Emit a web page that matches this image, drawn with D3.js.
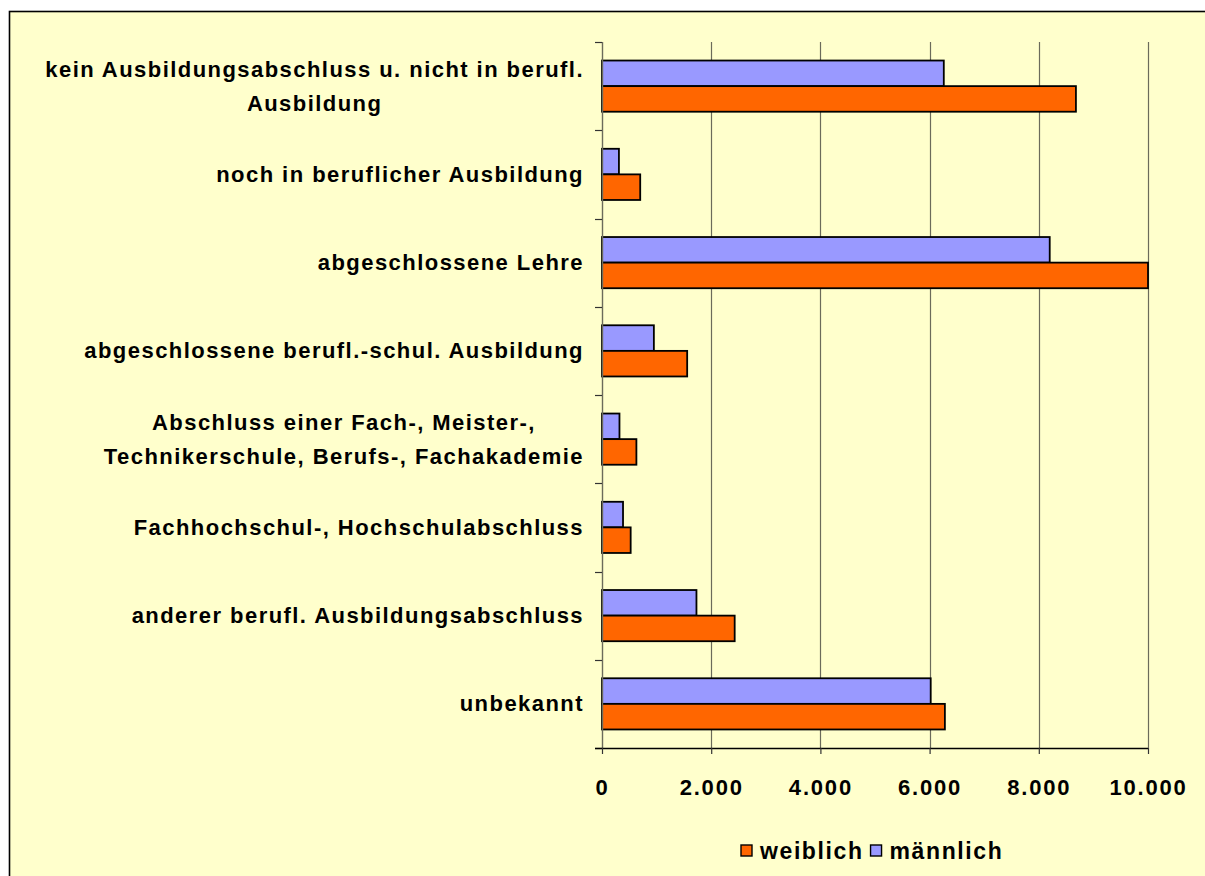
<!DOCTYPE html>
<html>
<head>
<meta charset="utf-8">
<script src="https://cdn.jsdelivr.net/npm/d3@7/dist/d3.min.js"></script>
<style>
  html, body { margin: 0; padding: 0; background: #ffffff; }
  svg { display: block; }
  text { font-family: "Liberation Sans", Arial, sans-serif; font-weight: bold; fill: #000; }
</style>
</head>
<body>
<svg id="chart" width="1205" height="876"></svg>
<script>
const categories = [
  ["kein Ausbildungsabschluss u. nicht in berufl.", "Ausbildung"],
  ["noch in beruflicher Ausbildung"],
  ["abgeschlossene Lehre"],
  ["abgeschlossene berufl.-schul. Ausbildung"],
  ["Abschluss einer Fach-, Meister-,", "Technikerschule, Berufs-, Fachakademie"],
  ["Fachhochschul-, Hochschulabschluss"],
  ["anderer berufl. Ausbildungsabschluss"],
  ["unbekannt"]
];
const weiblich = [8680, 700, 10000, 1560, 630, 525, 2430, 6280];
const maennlich = [6260, 310, 8200, 950, 320, 385, 1730, 6020];
const xTicks = [0, 2000, 4000, 6000, 8000, 10000];
const seriesNames = ["männlich", "weiblich"];      // order inside a group (top to bottom)
const legendNames = ["weiblich", "männlich"];
const colors = { "weiblich": "#FF6600", "männlich": "#9999FF" };

const svg = d3.select("#chart");
const W = 1205, H = 876;
const FS = 22, LS = 1.45;

// outer chart area
svg.append("rect").attr("x", 9.5).attr("y", 11.5).attr("width", W + 10).attr("height", H + 10)
  .attr("fill", "#FFFFCC").attr("stroke", "#000").attr("stroke-width", 1.6);

const plot = { left: 602, right: 1148, top: 42, bottom: 748 };

const x = d3.scaleLinear().domain([0, 10000]).range([plot.left, plot.right]);
const y = d3.scaleBand().domain(d3.range(categories.length)).range([plot.top, plot.bottom])
  .paddingInner(0.42).paddingOuter(0.21);
const ySub = d3.scaleBand().domain(seriesNames).range([0, y.bandwidth()]);

const fmt = v => d3.format(",")(v).replace(/,/g, ".");

// gridlines
svg.append("g").selectAll("line").data(xTicks.filter(d => d > 0)).join("line")
  .attr("x1", d => Math.round(x(d)) + 0.5).attr("x2", d => Math.round(x(d)) + 0.5)
  .attr("y1", plot.top).attr("y2", plot.bottom)
  .attr("stroke", "#6b6b5a").attr("stroke-width", 1.2);

// bars
const values = { "weiblich": weiblich, "männlich": maennlich };
const groups = svg.append("g").selectAll("g").data(categories.map((c, i) => i)).join("g")
  .attr("transform", i => `translate(0,${y(i)})`);
groups.selectAll("rect").data(i => seriesNames.map(s => ({ s, v: values[s][i] }))).join("rect")
  .attr("x", x(0))
  .attr("y", d => ySub(d.s))
  .attr("width", d => x(d.v) - x(0))
  .attr("height", ySub.bandwidth())
  .attr("fill", d => colors[d.s])
  .attr("stroke", "#000").attr("stroke-width", 1.8);

// y axis line and ticks
svg.append("line").attr("x1", plot.left + 0.5).attr("x2", plot.left + 0.5)
  .attr("y1", plot.top).attr("y2", plot.bottom).attr("stroke", "#6b6b5a").attr("stroke-width", 1.4);
const catBounds = d3.range(categories.length + 1).map(i => plot.top + i * y.step());
svg.append("g").selectAll("line").data(catBounds).join("line")
  .attr("x1", plot.left - 7).attr("x2", plot.left)
  .attr("y1", d => Math.round(d) + 0.5).attr("y2", d => Math.round(d) + 0.5)
  .attr("stroke", "#333").attr("stroke-width", 1.2);

// x axis
const xAxis = svg.append("g").attr("transform", `translate(0,${plot.bottom})`)
  .call(d3.axisBottom(x).tickValues(xTicks).tickFormat(fmt).tickSize(6).tickPadding(25));
xAxis.select(".domain").attr("stroke", "#000").attr("stroke-width", 1.4)
  .attr("d", `M${plot.left - 7},0.5H${plot.right}`);
xAxis.selectAll(".tick line").attr("stroke", "#333").attr("stroke-width", 1.2);
xAxis.selectAll(".tick text").attr("font-size", FS).attr("font-weight", "bold")
  .attr("letter-spacing", 1.8)
  .attr("font-family", "Liberation Sans, Arial, sans-serif").attr("fill", "#000");

// category labels
const labelRight = 584;
const lineH = 34;
const labG = svg.append("g");
categories.forEach((lines, i) => {
  const cy = y(i) + y.bandwidth() / 2;
  const t = labG.append("text").attr("font-size", FS).attr("letter-spacing", LS)
    .attr("dominant-baseline", "central");
  if (lines.length === 1) {
    t.attr("x", labelRight).attr("y", cy).attr("text-anchor", "end").text(lines[0]);
  } else {
    const tmp = labG.append("text").attr("font-size", FS).attr("letter-spacing", LS);
    let maxW = 0;
    lines.forEach(l => { tmp.text(l); maxW = Math.max(maxW, tmp.node().getComputedTextLength()); });
    tmp.remove();
    const cx = labelRight - maxW / 2;
    t.attr("text-anchor", "middle");
    lines.forEach((l, k) => {
      t.append("tspan").attr("x", cx)
        .attr("y", cy + (k - (lines.length - 1) / 2) * lineH).text(l);
    });
  }
});

// legend
const leg = svg.append("g");
let lx = 741;
const ly = 851;
legendNames.forEach(n => {
  leg.append("rect").attr("x", lx).attr("y", ly - 6).attr("width", 11).attr("height", 11)
    .attr("fill", colors[n]).attr("stroke", "#000").attr("stroke-width", 1.4);
  const t = leg.append("text").attr("x", lx + 19).attr("y", ly).attr("dominant-baseline", "central")
    .attr("font-size", 23).attr("letter-spacing", 1.6).text(n);
  lx += 19 + t.node().getComputedTextLength() + 7;
});
</script>
</body>
</html>
